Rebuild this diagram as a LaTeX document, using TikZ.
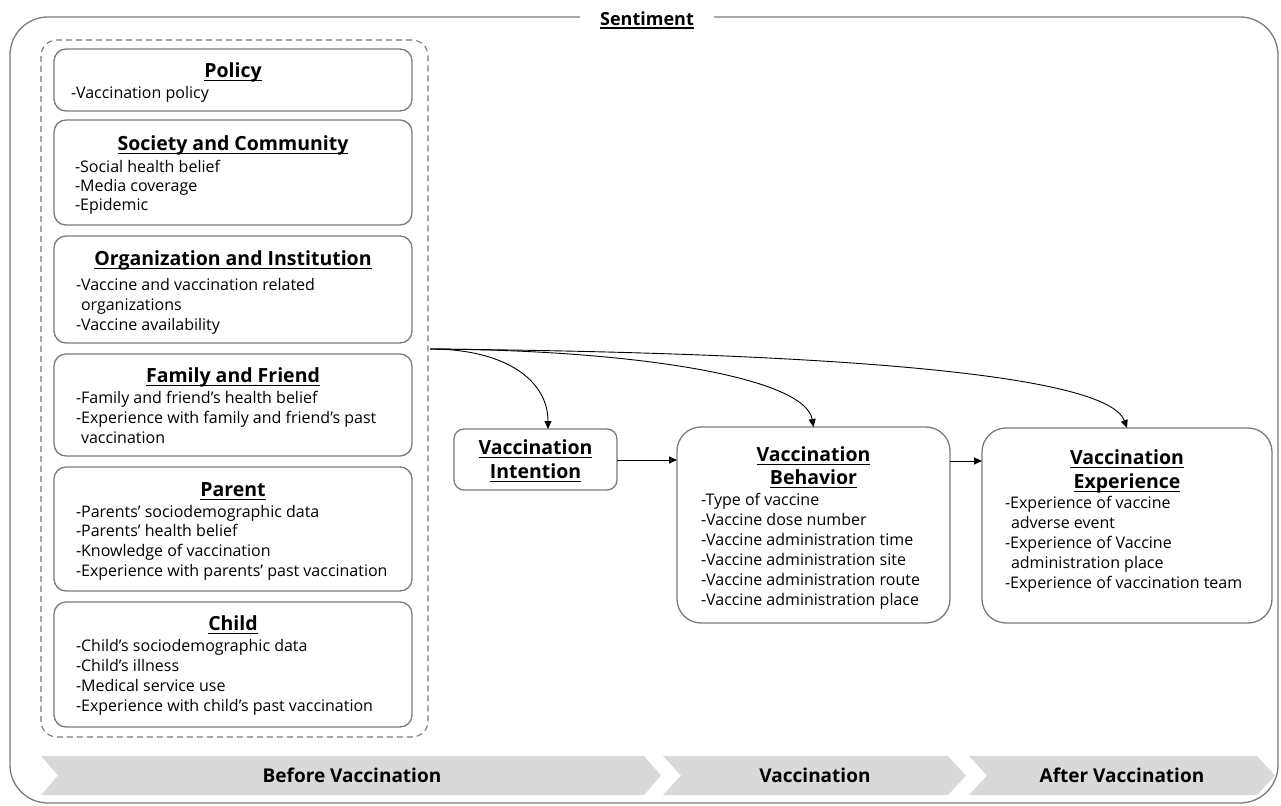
\documentclass[tikz,border=0pt]{standalone}
\usepackage{fontspec}
\setmainfont{Open Sans}
\usetikzlibrary{arrows.meta,calc}
\definecolor{bord}{HTML}{7A7A7A}
\definecolor{chevfill}{HTML}{D9D9D9}
\newcommand\myul[1]{\setbox0\hbox{#1}\rlap{\rule[-3.2pt]{\wd0}{1.2pt}}\box0}
\begin{document}
\begin{tikzpicture}[x=1pt,y=-1pt,
  every node/.style={inner sep=0pt, outer sep=0pt},
  box/.style={draw=bord, line width=1.3pt, rounded corners=12pt, anchor=north west},
  ttl/.style={font=\fontsize{19.5}{22}\selectfont\bfseries, text height=13.9pt, text depth=0pt, anchor=center},
  itm/.style={font=\fontsize{16}{19}\selectfont, text height=11.4pt, text depth=0pt, anchor=west},
  arr/.style={-{Triangle[length=8pt,width=7pt]}, line width=0.9pt, black},
  chev/.style={fill=chevfill, draw=none},
  chevtxt/.style={font=\fontsize{19}{22}\selectfont\bfseries, text height=13.6pt, text depth=0pt}
]
\useasboundingbox (0,0) rectangle (1281,805);

% outer sentiment frame
\node[draw=bord, line width=1.3pt, rounded corners=38pt, anchor=north west, minimum width=1268, minimum height=786] (outer) at (10,17) {};
\node[fill=white, inner xsep=20pt, inner ysep=2pt, font=\fontsize{18}{20}\selectfont\bfseries, text height=12.8pt, text depth=0pt] (sent) at (647,19) {\myul{Sentiment}};

% dashed group
\node[draw=bord, line width=1.1pt, dash pattern=on 6pt off 4pt, rounded corners=16pt, anchor=north west, minimum width=387, minimum height=697] (group) at (41,40) {};

% left boxes
\node[box, minimum width=358, minimum height=62] (policy) at (54,49) {};
\node[box, minimum width=358, minimum height=105] (society) at (54,120) {};
\node[box, minimum width=358, minimum height=107] (org) at (54,236) {};
\node[box, minimum width=358, minimum height=102] (family) at (54,354) {};
\node[box, minimum width=358, minimum height=124] (parent) at (54,467) {};
\node[box, minimum width=358, minimum height=125] (child) at (54,602) {};

\node[ttl] (policyT) at (233,71) {\myul{Policy}};
\node[itm] (policy1) at (71,93) {-Vaccination policy};

\node[ttl] (societyT) at (233,144) {\myul{Society and Community}};
\node[itm] (society1) at (75,167) {-Social health belief};
\node[itm] (society2) at (75,186) {-Media coverage};
\node[itm] (society3) at (75,205) {-Epidemic};

\node[ttl] (orgT) at (233,259) {\myul{Organization and Institution}};
\node[itm] (org1) at (76,285) {-Vaccine and vaccination related};
\node[itm] (org2) at (81,305) {organizations};
\node[itm] (org3) at (76,325) {-Vaccine availability};

\node[ttl] (familyT) at (233,376) {\myul{Family and Friend}};
\node[itm] (family1) at (76,398) {-Family and friend’s health belief};
\node[itm] (family2) at (76,418) {-Experience with family and friend’s past};
\node[itm] (family3) at (81,438) {vaccination};

\node[ttl] (parentT) at (233,490) {\myul{Parent}};
\node[itm] (parent1) at (76,512) {-Parents’ sociodemographic data};
\node[itm] (parent2) at (76,531) {-Parents’ health belief};
\node[itm] (parent3) at (76,551) {-Knowledge of vaccination};
\node[itm] (parent4) at (76,571) {-Experience with parents’ past vaccination};

\node[ttl] (childT) at (233,624) {\myul{Child}};
\node[itm] (child1) at (76,646) {-Child’s sociodemographic data};
\node[itm] (child2) at (76,666) {-Child’s illness};
\node[itm] (child3) at (76,686) {-Medical service use};
\node[itm] (child4) at (76,706) {-Experience with child’s past vaccination};

% right boxes
\node[box, rounded corners=10pt, minimum width=163, minimum height=61] (intention) at (454,429) {};
\node[ttl] (intentionT1) at (535.5,448) {\myul{Vaccination}};
\node[ttl] (intentionT2) at (535.5,472) {\myul{Intention}};

\node[box, rounded corners=24pt, minimum width=273, minimum height=196] (behavior) at (677,427) {};
\node[ttl] (behaviorT1) at (813.5,455) {\myul{Vaccination}};
\node[ttl] (behaviorT2) at (813.5,478) {\myul{Behavior}};
\node[itm] (beh1) at (701,500) {-Type of vaccine};
\node[itm] (beh2) at (701,520) {-Vaccine dose number};
\node[itm] (beh3) at (701,540) {-Vaccine administration time};
\node[itm] (beh4) at (701,560) {-Vaccine administration site};
\node[itm] (beh5) at (701,580) {-Vaccine administration route};
\node[itm] (beh6) at (701,600) {-Vaccine administration place};

\node[box, rounded corners=24pt, minimum width=290, minimum height=195] (experience) at (982,428) {};
\node[ttl] (experienceT1) at (1127,458) {\myul{Vaccination}};
\node[ttl] (experienceT2) at (1127,482) {\myul{Experience}};
\node[itm] (exp1) at (1005,503) {-Experience of vaccine};
\node[itm] (exp2) at (1011,523) {adverse event};
\node[itm] (exp3) at (1005,543) {-Experience of Vaccine};
\node[itm] (exp4) at (1011,563) {administration place};
\node[itm] (exp5) at (1005,583) {-Experience of vaccination team};

% connectors
\coordinate (src) at (430,349);
\draw[arr] (src) .. controls (505,349) and (548,380) .. ($(intention.north)+(12.5,0)$);
\draw[arr] (src) .. controls (640,350) and (805,378) .. (behavior.north);
\draw[arr] (src) .. controls (760,352) and (1105,368) .. (experience.north);
\coordinate (i2b) at (617,460);
\draw[arr] (i2b) -- (i2b -| behavior.west);
\coordinate (b2e) at (950,461);
\draw[arr] (b2e) -- (b2e -| experience.west);

% phase chevrons
\fill[chev] (41,756) -- (644,756) -- (661,775.5) -- (644,795) -- (41,795) -- (58,775.5) -- cycle;
\fill[chev] (663,756) -- (948,756) -- (966,775.5) -- (948,795) -- (663,795) -- (681,775.5) -- cycle;
\fill[chev] (969,756) -- (1257,756) -- (1275,775.5) -- (1257,795) -- (969,795) -- (987,775.5) -- cycle;
\node[chevtxt] (before) at (352,776) {Before Vaccination};
\node[chevtxt] (during) at (815,776) {Vaccination};
\node[chevtxt] (after) at (1122,776) {After Vaccination};
\end{tikzpicture}
\end{document}
